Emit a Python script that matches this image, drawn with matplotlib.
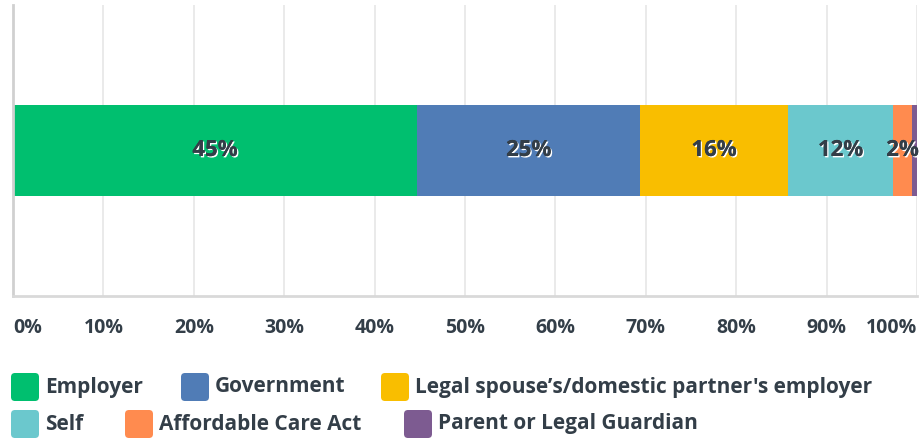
import matplotlib
matplotlib.use("Agg")
import matplotlib.pyplot as plt
import matplotlib.patheffects as pe
from matplotlib.patches import FancyBboxPatch

# data
categories = ["Employer", "Government", "Legal spouse\u2019s/domestic partner's employer",
              "Self", "Affordable Care Act", "Parent or Legal Guardian"]
shares = [44.7, 24.7, 16.3, 11.7, 2.0, 0.6]
bar_labels = ["45%", "25%", "16%", "12%", "2%", ""]
colors = ["#00bf6f", "#507cb6", "#f9be00", "#6bc8cd", "#ff8b4f", "#7d5b91"]
ticks = [0, 10, 20, 30, 40, 50, 60, 70, 80, 90, 100]
tick_labels = [f"{t}%" for t in ticks]

TXT = "#333e48"
FONT = ["Open Sans", "DejaVu Sans"]

W, H = 919, 440
fig = plt.figure(figsize=(W / 100, H / 100), dpi=100)

# main bar axes (pixel box: x 13..917, y 5..296)
ax = fig.add_axes([13 / W, 1 - 296 / H, (917 - 13) / W, (296 - 5) / H])
ax.set_xlim(0, 100)
ax.set_ylim(0, 1)

left = 0
for val, lab, col in zip(shares, bar_labels, colors):
    ax.barh(0.5, val, left=left, height=0.31, color=col, linewidth=0)
    if lab:
        t = ax.text(left + val / 2, 0.5, lab, ha="center", va="center",
                    fontsize=16, fontweight="bold", color=TXT, family=FONT)
        t.set_path_effects([pe.withSimplePatchShadow(offset=(1, -1), shadow_rgbFace="white", alpha=1.0),
                            pe.Normal()])
    left += val

ax.set_xticks(ticks)
ax.set_xticklabels(tick_labels)
ax.set_yticks([])
ax.grid(axis="x", color="#e6e6e6", linewidth=1.2)
ax.set_axisbelow(True)
for s in ["top", "right"]:
    ax.spines[s].set_visible(False)
ax.spines["left"].set_color("#d0d0d0")
ax.spines["left"].set_linewidth(2)
ax.spines["bottom"].set_color("#d9d9d9")
ax.spines["bottom"].set_linewidth(2)
ax.tick_params(axis="x", length=0, pad=16, labelsize=14, labelcolor=TXT)
for i, lbl in enumerate(ax.get_xticklabels()):
    lbl.set_family(FONT)
    lbl.set_fontweight("bold")
    if i == 0:
        lbl.set_ha("left")
    elif i == len(ticks) - 1:
        lbl.set_ha("right")

# legend drawn in pixel coordinates
lax = fig.add_axes([0, 0, 1, 1])
lax.set_xlim(0, W)
lax.set_ylim(H, 0)
lax.axis("off")
legend_pos = [(11, 373), (181, 373), (381, 373), (11, 410), (125, 410), (404, 410)]
for (x, y), name, col in zip(legend_pos, categories, colors):
    lax.add_patch(FancyBboxPatch((x, y), 28, 28, boxstyle="round,pad=0,rounding_size=4",
                                 facecolor=col, edgecolor="none"))
    lax.text(x + 34, y + 14, name, ha="left", va="center", fontsize=15,
             fontweight="bold", color=TXT, family=FONT)

fig.savefig("out.png", dpi=100)
